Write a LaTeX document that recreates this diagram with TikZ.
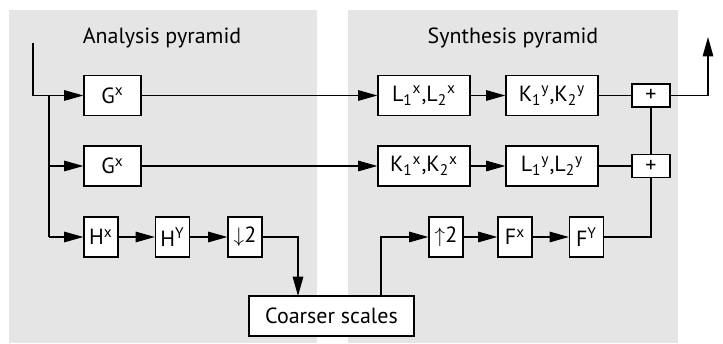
\documentclass[tikz,border=0pt]{standalone}
\usepackage{fontspec}
\setmainfont{PT Sans}
\usepackage{tikz}
\usetikzlibrary{positioning, arrows.meta}

\begin{document}
\begin{tikzpicture}[
  font=\fontsize{12.5}{14}\selectfont,
  panel/.style={fill=gray!20},
  filt/.style={draw, line width=0.7pt, fill=white, minimum width=6.8mm, minimum height=8mm, inner sep=1pt, align=center},
  wide/.style={filt, minimum width=18.4mm},
  sumbox/.style={draw, line width=0.7pt, fill=white, minimum width=7.6mm, minimum height=4.6mm, inner sep=0pt},
  title/.style={font=\fontsize{12.5}{14}\selectfont},
  arr/.style={->, >={Triangle[length=11pt, width=6pt]}, line width=0.7pt},
  wire/.style={line width=0.7pt}
]
\useasboundingbox (0,0) rectangle (14.46,-6.88);

% --- background panels ---
\fill[panel] (0.18,-0.20) rectangle (6.34,-6.86);
\fill[panel] (6.96,-0.20) rectangle (13.56,-6.86);
\node[title] (antitle)  at (3.24,-0.76)  {Analysis pyramid};
\node[title] (syntitle) at (10.26,-0.76) {Synthesis pyramid};

% --- analysis side ---
\coordinate (in)   at (0.66,-0.86);
\coordinate (fork) at (0.98,-1.91);
\node[filt, minimum width=11.4mm] (g1) at (2.25,-1.91) {G\textsuperscript{x}};
\node[filt, minimum width=11.4mm] (g2) at (2.25,-3.32) {G\textsuperscript{x}};
\node[filt] (hx)    at (2.02,-4.74) {H\textsuperscript{x}};
\node[filt] (hy)    at (3.45,-4.74) {H\textsuperscript{Y}};
\node[filt] (down)  at (4.90,-4.74) {$\downarrow$2};
\node[filt, minimum width=33mm] (coarse) at (6.63,-6.32) {Coarser scales};

\draw[arr] (in) |- (g1);
\draw[wire] (fork) -- (fork|-hx);
\draw[arr] (fork|-g2) -- (g2);
\draw[arr] (fork|-hx) -- (hx);
\draw[arr] (hx) -- (hy);
\draw[arr] (hy) -- (down);
\draw[arr] (down) -| (5.96,-5.92);

% --- synthesis side ---
\node[wide] (l12x) at (8.48,-1.91)  {L\textsubscript{1}\textsuperscript{x},L\textsubscript{2}\textsuperscript{x}};
\node[wide] (k12y) at (11.04,-1.91) {K\textsubscript{1}\textsuperscript{y},K\textsubscript{2}\textsuperscript{y}};
\node[wide] (k12x) at (8.48,-3.32)  {K\textsubscript{1}\textsuperscript{x},K\textsubscript{2}\textsuperscript{x}};
\node[wide] (l12y) at (11.04,-3.32) {L\textsubscript{1}\textsuperscript{y},L\textsubscript{2}\textsuperscript{y}};
\node[filt] (up)   at (8.92,-4.74)  {$\uparrow$2};
\node[filt] (fx)   at (10.30,-4.74) {F\textsuperscript{x}};
\node[filt] (fy)   at (11.73,-4.74) {F\textsuperscript{Y}};
\node[sumbox] (sum1) at (13.02,-1.91) {+};
\node[sumbox] (sum2) at (13.02,-3.32) {+};
\coordinate (out) at (14.16,-0.74);

\draw[arr] (g1) -- (l12x);
\draw[arr] (g2) -- (k12x);
\draw[arr] (l12x) -- (k12y);
\draw[arr] (k12x) -- (l12y);
\draw[wire] (k12y) -- (sum1);
\draw[wire] (l12y) -- (sum2);
\draw[wire] (sum2) -- (sum1);
\draw[arr] (sum1) -| (out);
\draw[arr] (7.62,-5.92) |- (up);
\draw[arr] (up) -- (fx);
\draw[arr] (fx) -- (fy);
\draw[wire] (fy) -| (sum2);
\end{tikzpicture}
\end{document}
